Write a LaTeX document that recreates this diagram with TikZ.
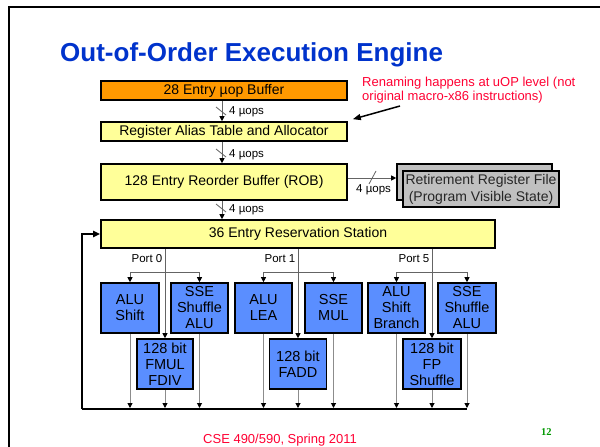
\documentclass[tikz,border=0pt]{standalone}
\usepackage{fontspec}
\setmainfont{Liberation Sans}
\newfontfamily\pagenumfont{Liberation Serif}
\usetikzlibrary{arrows.meta}
\definecolor{titleblue}{RGB}{0,51,204}
\definecolor{notered}{RGB}{255,0,51}
\definecolor{boxorange}{RGB}{255,153,0}
\definecolor{boxyellow}{RGB}{255,255,153}
\definecolor{boxblue}{RGB}{90,142,255}
\definecolor{boxgray}{RGB}{192,192,192}
\definecolor{pagegreen}{RGB}{0,153,0}
\definecolor{linegray}{RGB}{100,100,100}
\definecolor{outgray}{RGB}{140,140,140}
\begin{document}
\begin{tikzpicture}[x=1pt,y=-1pt,
  unitbox/.style={draw=black, line width=1.6pt, inner sep=0pt, align=center,
    font=\fontsize{14}{17}\selectfont},
  bluebox/.style={unitbox, fill=boxblue, minimum height=50pt,
    font=\fontsize{14.5}{16}\selectfont},
  smalllbl/.style={font=\fontsize{11.5}{13}\selectfont, inner sep=0pt},
  tipb/.style={-{Triangle[length=5pt,width=5pt,color=black]}},
  flow/.style={draw=linegray, line width=0.8pt, tipb},
  portline/.style={draw=linegray, line width=0.8pt},
  outline/.style={draw=outgray, line width=1pt, tipb},
  slashmark/.style={draw=linegray, line width=0.8pt},
  feedback/.style={draw=black, line width=2pt},
]
% bounding box
\path[use as bounding box] (0,0) rectangle (600,447);
\fill[white] (0,0) rectangle (600,447);
% slide frame
\draw[line width=2pt] (9,447) -- (9,7) -- (600,7);

% title
\node[anchor=base west, inner sep=0pt, text=titleblue,
  font=\bfseries\fontsize{26}{30}\selectfont] (title) at (60,61)
  {Out-of-Order Execution Engine};

% pipeline boxes
\node[unitbox, fill=boxorange, minimum width=246pt, minimum height=19pt] (uop) at (224,90.5) {28 Entry µop Buffer};
\node[unitbox, fill=boxyellow, minimum width=246pt, minimum height=19pt] (rat) at (224,131.5) {Register Alias Table and Allocator};
\node[unitbox, fill=boxyellow, minimum width=246pt, minimum height=36pt] (rob) at (224,182) {128 Entry Reorder Buffer (ROB)};
\node[unitbox, fill=boxgray, minimum width=155pt, minimum height=36pt] (retback) at (474.5,182) {};
\node[unitbox, fill=boxgray, minimum width=156pt, minimum height=36pt,
  text=black!85] (retfront) at (481,189) {Retirement Register File\\(Program Visible State)};
\node[unitbox, fill=boxyellow, minimum width=394pt, minimum height=28pt] (rs) at (298,234) {36 Entry Reservation Station};

% annotation
\node[anchor=west, align=left, inner sep=0pt, text=notered,
  font=\fontsize{13}{14.5}\selectfont] (note) at (362,90)
  {Renaming happens at uOP level (not\\original macro-x86 instructions)};
\coordinate (notetail) at (400,106);
\draw[line width=1.5pt, -{Triangle[length=8pt,width=6pt]}] (notetail) -- ([xshift=5pt,yshift=2pt]rat.north east);

% 4 uops arrows
\draw[flow] ([xshift=-2pt]uop.south) -- ([xshift=-2pt]rat.north);
\draw[slashmark] (216,107) -- (226,115);
\node[smalllbl, anchor=west] (l1) at (229,112) {4 µops};
\draw[flow] ([xshift=-2pt]rat.south) -- ([xshift=-2pt]rob.north);
\draw[slashmark] (216,149) -- (226,157);
\node[smalllbl, anchor=west] (l2) at (229,155) {4 µops};
\draw[flow] ([xshift=-2pt]rob.south) -- ([xshift=-2pt]rob.south |- rs.north);
\draw[slashmark] (216,204) -- (226,212);
\node[smalllbl, anchor=west] (l3) at (229,210) {4 µops};
% ROB -> retirement
\draw[flow] ([yshift=4pt]rob.east) -- ([yshift=4pt]retback.west);
\draw[slashmark] (369,184) -- (376,171);
\node[smalllbl, anchor=west] (l4) at (356,190) {4 µops};

% execution units
\node[bluebox, minimum width=58pt] (alushift) at (130,308) {ALU\\Shift};
\node[bluebox, minimum width=57pt] (sseA) at (199.5,308) {SSE\\Shuffle\\ALU};
\node[bluebox, minimum width=57pt] (alulea) at (263.5,308) {ALU\\LEA};
\node[bluebox, minimum width=57pt] (ssemul) at (333.5,308) {SSE\\MUL};
\node[bluebox, minimum width=57pt] (alubr) at (396.5,308) {ALU\\Shift\\Branch};
\node[bluebox, minimum width=58pt] (sseB) at (467,308) {SSE\\Shuffle\\ALU};
\node[bluebox, minimum width=56pt] (fmul) at (165,364) {128 bit\\FMUL\\FDIV};
\node[bluebox, minimum width=57pt] (fadd) at (298,364) {128 bit\\FADD};
\node[bluebox, minimum width=58pt] (fpshuf) at (432,364) {128 bit\\FP\\Shuffle};

% ports
\coordinate (br) at (0,272);
\coordinate (bot) at (0,408);
\coordinate (botline) at (0,409);
\coordinate (fbl) at (82,409);

\draw[portline, tipb] (fmul.north |- rs.south) -- (fmul.north);
\draw[portline, tipb] (fmul.north |- br) -| (alushift.north);
\draw[portline, tipb] (fmul.north |- br) -| (sseA.north);
\node[smalllbl, anchor=east] (p0) at (162.5,259) {Port 0};

\draw[portline, tipb] (fadd.north |- rs.south) -- (fadd.north);
\draw[portline, tipb] (fadd.north |- br) -| (alulea.north);
\draw[portline, tipb] (fadd.north |- br) -| (ssemul.north);
\node[smalllbl, anchor=east] (p1) at (295.5,259) {Port 1};

\draw[portline, tipb] (fpshuf.north |- rs.south) -- (fpshuf.north);
\draw[portline, tipb] (fpshuf.north |- br) -| (alubr.north);
\draw[portline, tipb] (fpshuf.north |- br) -| (sseB.north);
\node[smalllbl, anchor=east] (p5) at (429.5,259) {Port 5};

% outputs
\foreach \u in {alushift,sseA,fmul,alulea,fadd,ssemul,alubr,fpshuf,sseB}
  \draw[outline] (\u.south) -- (\u.south |- bot);

% writeback bus and feedback
\draw[feedback] (sseB.south |- botline) -- (fbl);
\draw[feedback, -{Triangle[length=7pt,width=6pt]}] (fbl) |- (rs.west);

% footer
\node[anchor=west, inner sep=0pt, text=notered, font=\fontsize{13}{15}\selectfont] (footer) at (203,440) {CSE 490/590, Spring 2011};
\node[anchor=west, inner sep=0pt, text=pagegreen, font=\pagenumfont\bfseries\fontsize{10.5}{12}\selectfont] (pagenum) at (541,432) {12};
\end{tikzpicture}
\end{document}
